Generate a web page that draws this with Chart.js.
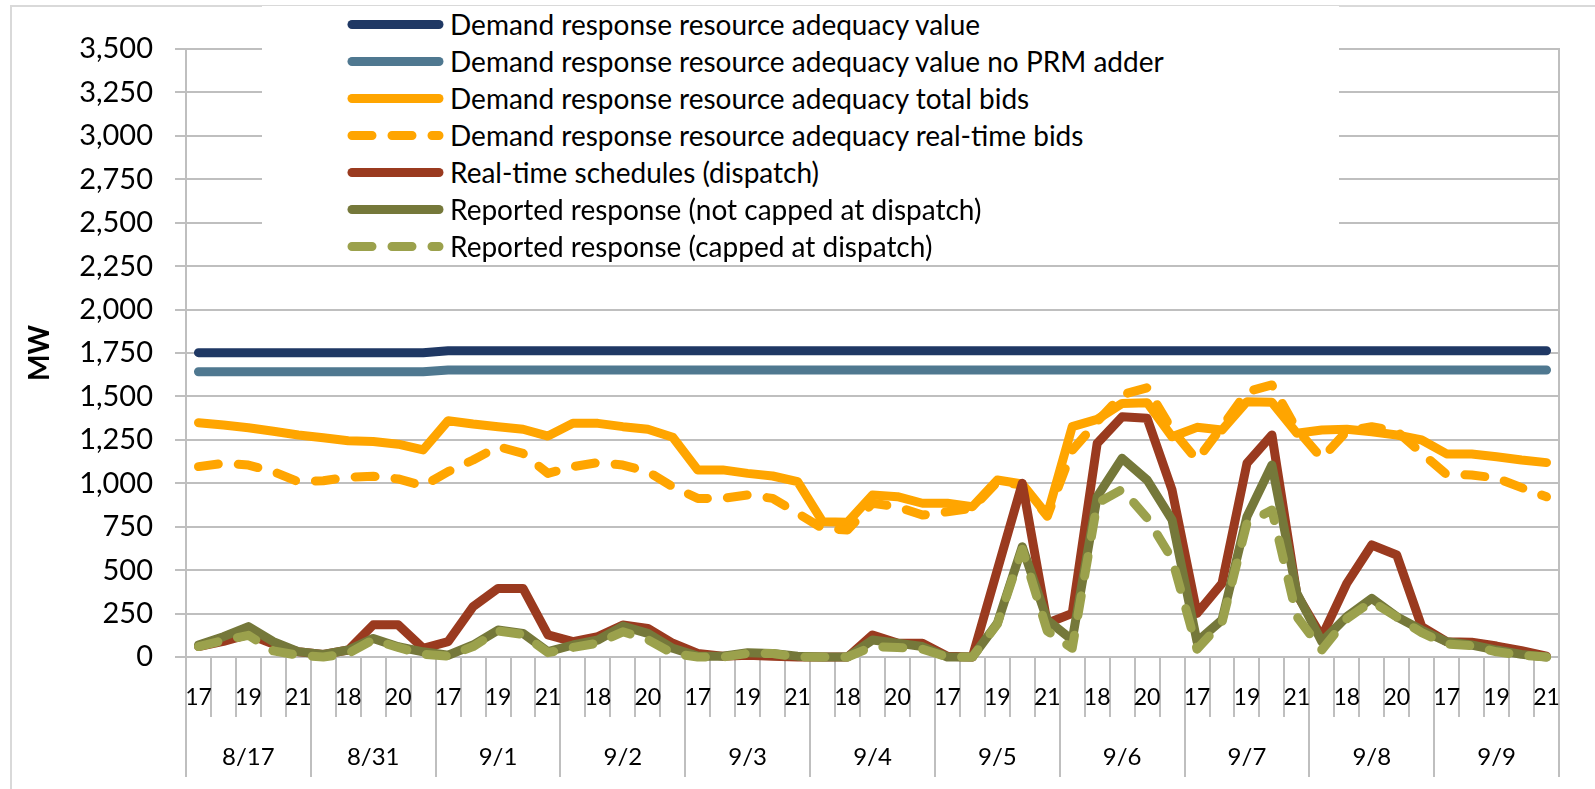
<!DOCTYPE html>
<html>
<head>
<meta charset="utf-8">
<script src="https://cdn.jsdelivr.net/npm/chart.js@4.4.1/dist/chart.umd.min.js"></script>
<style>
  html, body { margin: 0; padding: 0; background: #fff; overflow: hidden; }
  #wrap { position: relative; width: 1595px; height: 789px; overflow: hidden; }
  #frame { position: absolute; left: 10px; top: 5px; width: 1700px; height: 900px;
           border-left: 2px solid #D9D9D9; border-top: 2px solid #D9D9D9; }
  #c { position: absolute; left: 0; top: 0; }
  #legend { position: absolute; left: 262px; top: 6px; width: 1077px; height: 257px;
            background: #fff; font-family: Lato, "Open Sans", sans-serif; font-size: 28px; color: #000; }
  .row { position: absolute; left: 82px; height: 37px; display: flex; align-items: center; white-space: nowrap; }
  .row svg { width: 100px; height: 37px; flex: none; }
  .row span { margin-left: 6px; line-height: 37px; }
</style>
</head>
<body>
<div id="wrap">
  <div id="frame"></div>
  <canvas id="c" width="1595" height="789"></canvas>
  <div id="legend"></div>
</div>
<script>
// ---- categories ----
const days = ['8/17', '8/31', '9/1', '9/2', '9/3', '9/4', '9/5', '9/6', '9/7', '9/8', '9/9'];
const hours = [17, 18, 19, 20, 21];

// ---- series values (MW), 5 hours x 11 days ----
const raValue = [
  1752, 1752, 1752, 1752, 1752,  1752, 1752, 1752, 1752, 1752,
  1763, 1763, 1763, 1763, 1763,  1763, 1763, 1763, 1763, 1763,
  1763, 1763, 1763, 1763, 1763,  1763, 1763, 1763, 1763, 1763,
  1763, 1763, 1763, 1763, 1763,  1763, 1763, 1763, 1763, 1763,
  1763, 1763, 1763, 1763, 1763,  1763, 1763, 1763, 1763, 1763,
  1763, 1763, 1763, 1763, 1763
];
const raValueNoPrm = [
  1642, 1642, 1642, 1642, 1642,  1642, 1642, 1642, 1642, 1642,
  1652, 1652, 1652, 1652, 1652,  1652, 1652, 1652, 1652, 1652,
  1652, 1652, 1652, 1652, 1652,  1652, 1652, 1652, 1652, 1652,
  1652, 1652, 1652, 1652, 1652,  1652, 1652, 1652, 1652, 1652,
  1652, 1652, 1652, 1652, 1652,  1652, 1652, 1652, 1652, 1652,
  1652, 1652, 1652, 1652, 1652
];
const totalBids = [
  1349, 1335, 1320, 1300, 1278,  1262, 1245, 1240, 1225, 1192,
  1360, 1341, 1326, 1311, 1272,  1345, 1345, 1326, 1311, 1265,
  1077, 1077, 1057, 1042, 1009,  779, 775, 933, 923, 885,
  885, 865, 1019, 996, 817,      1326, 1368, 1460, 1464, 1268,
  1322, 1307, 1470, 1466, 1288,  1307, 1311, 1297, 1278, 1249,
  1169, 1169, 1153, 1134, 1119
];
const realTimeBids = [
  1096, 1115, 1105, 1067, 1009,  1015, 1035, 1040, 1025, 985,
  1067, 1134, 1211, 1172, 1057,  1096, 1119, 1105, 1067, 980,
  913, 913, 933, 913, 827,       741, 731, 885, 865, 817,
  836, 856, 1009, 990, 810,      1190, 1355, 1510, 1550, 1307,
  1134, 1326, 1527, 1566, 1310,  1144, 1300, 1326, 1300, 1174,
  1050, 1048, 1030, 975, 922
];
const rtSchedules = [
  60, 90, 130, 75, 30,           15, 40, 185, 185, 50,
  88, 290, 395, 395, 127,        88, 117, 184, 165, 79,
  21, 5, 10, 5, 0,               0, 0, 127, 80, 79,
  5, 0, 501, 1000, 194,          251, 1230, 1383, 1374, 961,
  251, 424, 1115, 1278, 360,     117, 424, 645, 587, 175,
  88, 85, 63, 36, 5
];
const reportedNotCapped = [
  69, 117, 175, 88, 31,          15, 40, 107, 59, 30,
  10, 69, 155, 136, 31,          69, 98, 178, 136, 50,
  5, 5, 25, 20, 5,               0, 0, 98, 80, 60,
  0, 0, 194, 635, 213,           98, 923, 1144, 1019, 789,
  88, 213, 808, 1105, 367,       88, 232, 338, 232, 155,
  88, 69, 40, 15, 0
];
const reportedCapped = [
  60, 95, 125, 35, 10,           0, 20, 100, 55, 15,
  5, 60, 150, 130, 25,           55, 80, 145, 100, 20,
  0, 0, 20, 20, 0,               0, 0, 60, 55, 45,
  0, 0, 190, 620, 150,           50, 885, 965, 800, 565,
  45, 200, 770, 846, 232,        41, 220, 320, 230, 140,
  75, 65, 30, 10, 0
];

// ---- y tick settings ----
const yMin = 0, yMax = 3500, yStep = 250;

const seriesNames = [
  'Demand response resource adequacy value',
  'Demand response resource adequacy value no PRM adder',
  'Demand response resource adequacy total bids',
  'Demand response resource adequacy real-time bids',
  'Real-time schedules (dispatch)',
  'Reported response (not capped at dispatch)',
  'Reported response (capped at dispatch)'
];
const seriesData = [raValue, raValueNoPrm, totalBids, realTimeBids, rtSchedules, reportedNotCapped, reportedCapped];
const seriesColors = ['#1F3864', '#4F7890', '#FFA500', '#FFA500', '#9A3A1F', '#75783A', '#9BA14C'];
const seriesDashed = [false, false, false, true, false, false, true];

// categories built from days x hours
const labels = [];
days.forEach(d => hours.forEach(h => labels.push(String(h))));

const LW = 9;
const DASH = [20, 20];
const GRID = '#BFBFBF';

const datasets = seriesNames.map((name, i) => ({
  label: name,
  data: seriesData[i],
  borderColor: seriesColors[i],
  backgroundColor: seriesColors[i],
  borderWidth: LW,
  borderDash: seriesDashed[i] ? DASH : [],
  borderCapStyle: 'round',
  borderJoinStyle: 'round',
  pointRadius: 0,
  pointHoverRadius: 0,
  tension: 0,
  fill: false,
  clip: false,
  order: seriesNames.length - i
}));

// HTML legend built from the same series definitions
const legend = document.getElementById('legend');
seriesNames.forEach((name, i) => {
  const row = document.createElement('div');
  row.className = 'row';
  row.style.top = (37 * i) + 'px';
  const dash = seriesDashed[i] ? ' stroke-dasharray="20 20"' : '';
  row.innerHTML = '<svg viewBox="0 0 100 37"><line x1="8" y1="18.5" x2="95" y2="18.5" stroke="' +
    seriesColors[i] + '" stroke-width="' + LW + '" stroke-linecap="round"' + dash + '/></svg><span>' + name + '</span>';
  legend.appendChild(row);
});

function build() {
  new Chart(document.getElementById('c'), {
    type: 'line',
    data: { labels: labels, datasets: datasets },
    options: {
      responsive: false,
      animation: false,
      devicePixelRatio: 1,
      layout: { padding: { left: 12, right: 36, top: 49, bottom: 12 } },
      plugins: { legend: { display: false }, tooltip: { enabled: false } },
      scales: {
        x: {
          type: 'category',
          position: 'bottom',
          weight: 0,
          offset: true,
          grid: { offset: true, drawOnChartArea: false, drawTicks: true, tickLength: 60, color: GRID, lineWidth: 2 },
          border: { display: true, color: GRID, width: 2 },
          ticks: {
            autoSkip: false, maxRotation: 0, minRotation: 0, padding: -33,
            color: '#000', font: { family: 'Lato', size: 23 },
            callback: function (val, idx) { return idx % 2 === 0 ? this.getLabelForValue(val) : ''; }
          },
          afterFit: s => { s.height = 60; }
        },
        xDay: {
          type: 'category',
          position: 'bottom',
          weight: 1,
          labels: days,
          offset: true,
          grid: { offset: true, drawOnChartArea: false, drawTicks: true, tickLength: 60, color: GRID, lineWidth: 2 },
          border: { display: false },
          ticks: { autoSkip: false, maxRotation: 0, minRotation: 0, padding: -34,
                   color: '#000', font: { family: 'Lato', size: 24 } },
          afterFit: s => { s.height = 60; }
        },
        y: {
          type: 'linear',
          position: 'left',
          min: yMin, max: yMax,
          grid: { color: GRID, lineWidth: 2, drawTicks: true, tickLength: 11 },
          border: { display: true, color: GRID, width: 2 },
          ticks: { stepSize: yStep, padding: 22, color: '#000', font: { family: 'Lato', size: 29 } },
          title: { display: true, text: 'MW', color: '#000', padding: { top: 11, bottom: 0 },
                   font: { family: 'Lato', size: 28, weight: 'bold' } },
          afterFit: s => { s.width = 174; }
        },
        yRight: {
          type: 'linear',
          position: 'right',
          display: true,
          grid: { display: false, drawTicks: false },
          border: { display: true, color: GRID, width: 2 },
          ticks: { display: false },
          afterFit: s => { s.width = 0; }
        }
      }
    }
  });
}

if (document.fonts && document.fonts.load) {
  Promise.all([
    document.fonts.load('28px Lato'),
    document.fonts.load('bold 28px Lato')
  ]).then(build, build);
} else {
  build();
}
</script>
</body>
</html>
